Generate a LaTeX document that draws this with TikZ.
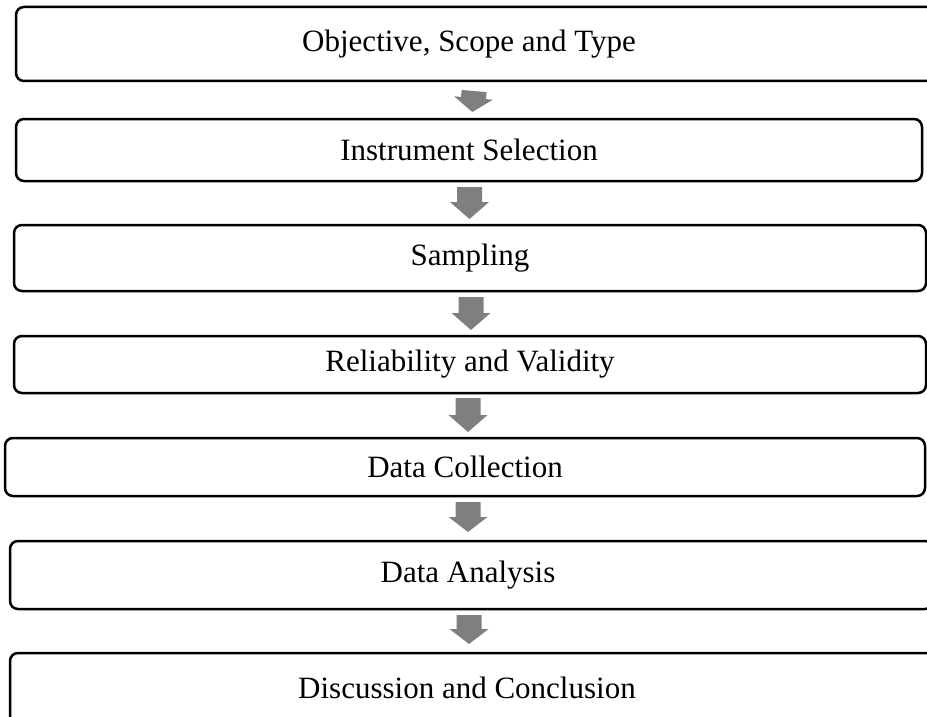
\documentclass[tikz,border=0pt]{standalone}
\usepackage{fontspec}
\setmainfont{Liberation Serif}
\definecolor{arrowgray}{HTML}{7F7F7F}
\begin{document}
\begin{tikzpicture}[x=1pt,y=-1pt,
  box/.style={draw, line width=2.5pt, rounded corners=8pt, inner sep=0pt},
  lbl/.style={font=\fontsize{31}{36}\selectfont, inner sep=0pt},
  pics/blockarrow/.style n args={2}{code={
    \fill[arrowgray] (-12.5,-#1) -- (12.5,-#1) -- (12.5,0) -- (19.5,0) -- (0,#2) -- (-19.5,0) -- (-12.5,0) -- cycle;}}]
\useasboundingbox (0,0) rectangle (927,717);
% boxes
\node[box, minimum width=924pt, minimum height=74pt] (b1) at (478,44) {};
\node[lbl] (t1) at (469,44) {Objective, Scope and Type};
\node[box, minimum width=906pt, minimum height=62pt, lbl] (b2) at (469,150) {Instrument Selection};
\node[box, minimum width=912pt, minimum height=66pt, lbl] (b3) at (470,258) {Sampling};
\node[box, minimum width=912pt, minimum height=57pt, lbl] (b4) at (470,364.5) {Reliability and Validity};
\node[box, minimum width=920pt, minimum height=58pt, lbl] (b5) at (465,467) {Data Collection};
\node[box, minimum width=923pt, minimum height=68pt] (b6) at (471.5,575) {};
\node[lbl] (t6) at (468,575) {Data Analysis};
\node[box, minimum width=930pt, minimum height=87pt] (b7) at (475,696.5) {};
\node[lbl] (t7) at (467,688) {Discussion and Conclusion};
% arrows
\coordinate (a1) at (473.5,98);
\coordinate (a2) at (469.5,202);
\coordinate (a3) at (471,313);
\coordinate (a4) at (468,415);
\coordinate (a5) at (468,517);
\coordinate (a6) at (469,629);
\pic[rotate=-5] at (a1) {blockarrow={7}{14}};
\pic at (a2) {blockarrow={15}{17}};
\pic at (a3) {blockarrow={16}{17}};
\pic at (a4) {blockarrow={17}{17}};
\pic at (a5) {blockarrow={15}{15}};
\pic at (a6) {blockarrow={14}{15}};
\end{tikzpicture}
\end{document}
